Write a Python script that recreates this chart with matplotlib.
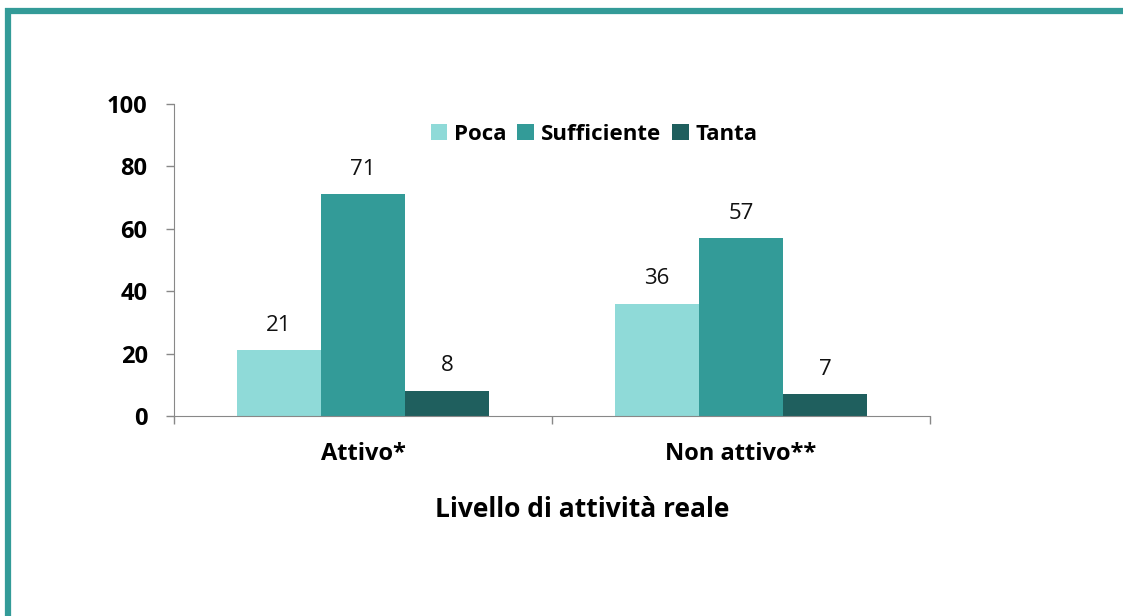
import matplotlib
matplotlib.use("Agg")
import matplotlib.pyplot as plt
from matplotlib.lines import Line2D
import numpy as np

categories = ["Attivo*", "Non attivo**"]
series_names = ["Poca", "Sufficiente", "Tanta"]
poca = [21, 36]
sufficiente = [71, 57]
tanta = [8, 7]
colors = ["#8FDAD8", "#339B98", "#1F5F5E"]

plt.rcParams['font.family'] = ['Open Sans', 'DejaVu Sans']

W, H = 1123, 616
fig = plt.figure(figsize=(W / 100, H / 100), dpi=100)

# frame lines
fig.add_artist(Line2D([5 / W, 1], [1 - 11 / H, 1 - 11 / H], color="#339B98", lw=4.5,
                      transform=fig.transFigure, solid_capstyle="butt"))
fig.add_artist(Line2D([8 / W, 8 / W], [0, 1 - 8 / H], color="#339B98", lw=4.5,
                      transform=fig.transFigure, solid_capstyle="butt"))

ax_l, ax_r, ax_t, ax_b = 174, 930, 104, 416
ax = fig.add_axes([ax_l / W, 1 - ax_b / H, (ax_r - ax_l) / W, (ax_b - ax_t) / H])

x = np.arange(len(categories))
bw = 2 / 9
data = [poca, sufficiente, tanta]
for i, (vals, name, c) in enumerate(zip(data, series_names, colors)):
    pos = x + (i - 1) * bw
    ax.bar(pos, vals, width=bw, color=c, label=name, zorder=2)
    for xx, v in zip(pos, vals):
        ax.text(xx, v + 6.3, str(v), ha="center", va="baseline", fontsize=16, color="#111111")

ax.set_xlim(-0.5, 1.5)
ax.set_ylim(0, 100)
ax.set_yticks([0, 20, 40, 60, 80, 100])
ax.set_xticks(x)
ax.set_xticklabels(categories, fontsize=17, fontweight="bold")
ax.tick_params(axis="x", length=0, pad=19)
ax.set_xticks([-0.5, 0.5, 1.5], minor=True)
ax.tick_params(axis="x", which="minor", length=6, color="#888888", width=1)
ax.tick_params(axis="y", length=6, color="#888888", width=1, labelsize=17, pad=13)
for lab in ax.get_yticklabels():
    lab.set_fontweight("bold")
for s in ["top", "right"]:
    ax.spines[s].set_visible(False)
ax.spines["left"].set_color("#888888")
ax.spines["bottom"].set_color("#888888")

fig.text(582 / W, 1 - 517 / H, "Livello di attività reale", fontsize=19, fontweight="bold",
         ha="center", va="baseline")

leg = ax.legend(loc="upper center", bbox_to_anchor=((594 - ax_l) / (ax_r - ax_l), 1.0), ncol=3,
                frameon=False, prop={"weight": "bold", "size": 16}, handlelength=0.75,
                handleheight=0.75, handletextpad=0.3, columnspacing=0.5)

fig.savefig("out.png", dpi=100)
